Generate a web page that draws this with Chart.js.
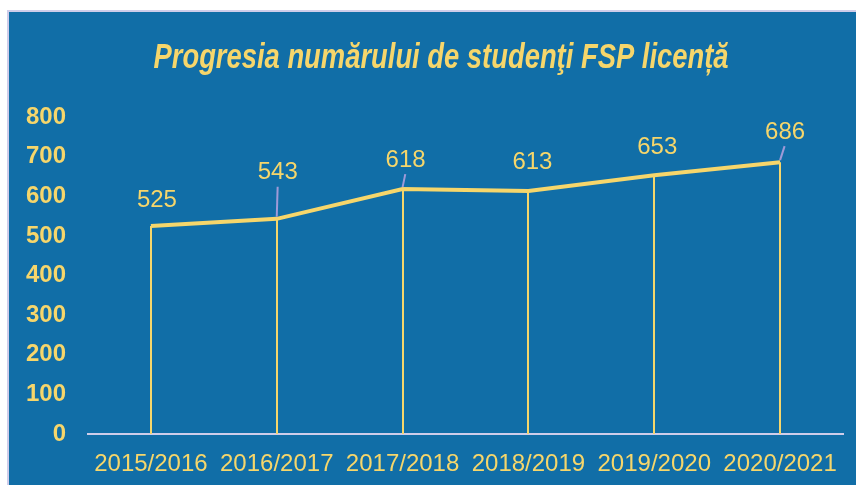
<!DOCTYPE html>
<html lang="ro">
<head>
    <meta charset="UTF-8">
    <title>Progresia numărului de studenţi FSP licență</title>
    <script src="https://cdn.jsdelivr.net/npm/chart.js"></script>
    <style>
        html, body { margin: 0; padding: 0; background: #fff; }
        #wrap { width: 856px; height: 485px; }
    </style>
</head>
<body>
    <div id="wrap"><canvas id="studentsChart"></canvas></div>

    <script>
        // Data
        const years = ['2015/2016', '2016/2017', '2017/2018', '2018/2019', '2019/2020', '2020/2021'];
        const students = [525, 543, 618, 613, 653, 686];
        const yTicks = [0, 100, 200, 300, 400, 500, 600, 700, 800];
        const chartTitle = 'Progresia numărului de studenţi FSP licență';

        const yellow = '#f6d66b';
        const blue = '#116ea7';
        const lavender = '#cfcdea';

        // background panel + title
        const panelPlugin = {
            id: 'panel',
            beforeDraw(chart) {
                const ctx = chart.ctx;
                ctx.save();
                ctx.fillStyle = '#ffffff';
                ctx.fillRect(0, 0, chart.width, chart.height);
                ctx.fillStyle = lavender;
                ctx.fillRect(7, 10, chart.width - 7, chart.height - 10);
                ctx.fillStyle = blue;
                ctx.fillRect(9, 12, chart.width - 9, chart.height - 12);

                // title, squeezed to look like a condensed face
                ctx.font = 'italic bold 35px "Liberation Sans", Arial, sans-serif';
                ctx.fillStyle = yellow;
                ctx.textAlign = 'center';
                ctx.textBaseline = 'alphabetic';
                const w = ctx.measureText(chartTitle).width;
                const sx = 575 / w;
                ctx.translate(441, 68);
                ctx.scale(sx, 1);
                ctx.fillText(chartTitle, 0, 0);
                ctx.restore();
            }
        };

        // vertical drop lines from each point to the axis
        const dropLines = {
            id: 'dropLines',
            beforeDatasetsDraw(chart) {
                const ctx = chart.ctx;
                const meta = chart.getDatasetMeta(0);
                const bottom = chart.scales.y.getPixelForValue(0);
                ctx.save();
                ctx.strokeStyle = yellow;
                ctx.lineWidth = 2;
                meta.data.forEach(p => {
                    ctx.beginPath();
                    ctx.moveTo(Math.round(p.x), p.y);
                    ctx.lineTo(Math.round(p.x), bottom);
                    ctx.stroke();
                });
                ctx.restore();
            }
        };

        // value labels (some with leader lines)
        const valueLabels = {
            id: 'valueLabels',
            afterDatasetsDraw(chart, args, opts) {
                const ctx = chart.ctx;
                const meta = chart.getDatasetMeta(0);
                ctx.save();
                ctx.font = '24px "Liberation Sans", Arial, sans-serif';
                ctx.textAlign = 'center';
                ctx.textBaseline = 'middle';
                meta.data.forEach((p, i) => {
                    const [dx, dy] = opts.offsets[i];
                    const lx = p.x + dx, ly = p.y + dy;
                    if (opts.leaders[i]) {
                        ctx.strokeStyle = '#9f9ad8';
                        ctx.lineWidth = 2;
                        ctx.beginPath();
                        ctx.moveTo(p.x, p.y - 2);
                        ctx.lineTo(p.x + dx * 0.9, ly + 14);
                        ctx.stroke();
                    }
                    ctx.fillStyle = yellow;
                    ctx.fillText(students[i], lx, ly);
                });
                ctx.restore();
            }
        };

        new Chart(document.getElementById('studentsChart'), {
            type: 'line',
            data: {
                labels: years,
                datasets: [{
                    data: students,
                    borderColor: yellow,
                    borderWidth: 4,
                    pointRadius: 0,
                    tension: 0,
                    fill: false
                }]
            },
            options: {
                responsive: true,
                maintainAspectRatio: false,
                animation: false,
                events: [],
                layout: { padding: { top: 117, right: 13, left: 0, bottom: 0 } },
                plugins: {
                    legend: { display: false },
                    tooltip: { enabled: false },
                    title: { display: false },
                    valueLabels: {
                        offsets: [[6, -26], [1, -46], [3, -29], [4, -29], [3, -28], [5, -30]],
                        leaders: [false, true, true, false, false, true]
                    }
                },
                scales: {
                    x: {
                        offset: true,
                        grid: { display: false, drawTicks: false },
                        border: { display: true, color: lavender, width: 2 },
                        ticks: {
                            color: yellow,
                            padding: 16,
                            maxRotation: 0,
                            autoSkip: false,
                            font: { family: '"Liberation Sans", Arial, sans-serif', size: 24 }
                        },
                        afterFit(scale) { scale.height = 51; }
                    },
                    y: {
                        min: 0,
                        max: 800,
                        afterBuildTicks(scale) { scale.ticks = yTicks.map(v => ({ value: v })); },
                        grid: { display: false, drawTicks: false },
                        border: { display: false },
                        ticks: {
                            color: yellow,
                            padding: 22,
                            font: { family: '"Liberation Sans", Arial, sans-serif', size: 24, weight: 'bold' }
                        },
                        afterFit(scale) { scale.width = 88; }
                    }
                }
            },
            plugins: [panelPlugin, dropLines, valueLabels]
        });
    </script>
</body>
</html>
